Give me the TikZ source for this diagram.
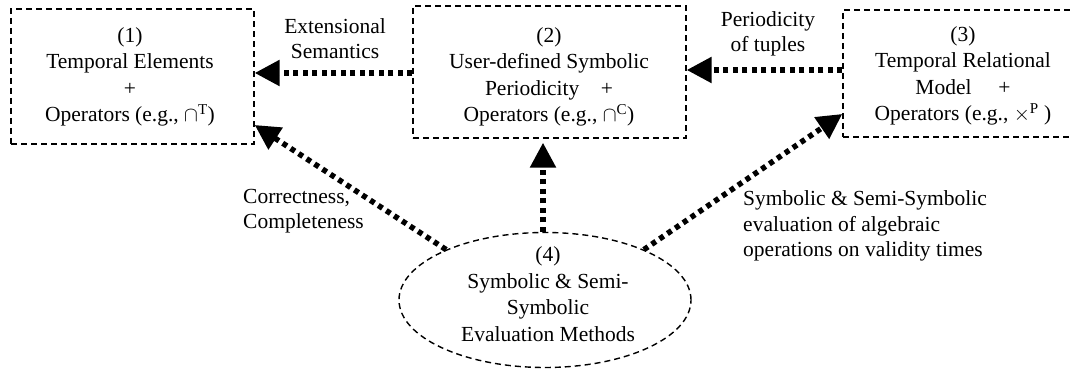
\documentclass[tikz,border=0pt]{standalone}
\usepackage{fontspec}
\setmainfont{Liberation Serif}
\usetikzlibrary{arrows.meta,shapes.geometric}
\tikzset{
  box/.style={draw, dashed, line width=1.4pt, dash pattern=on 6pt off 4pt, inner sep=0pt},
  txt/.style={align=center, inner sep=0pt, font=\fontsize{21.5}{26.5}\selectfont},
  lbl/.style={inner sep=0pt, font=\fontsize{21.5}{25.5}\selectfont},
  arr/.style={line width=5.5pt, dash pattern=on 5pt off 4.5pt, -{Triangle[length=25pt,width=25pt]}}
}
\begin{document}
\begin{tikzpicture}[x=1pt,y=-1pt]
\clip (0,0) rectangle (1070,371);
\fill[white] (0,0) rectangle (1070,371);
% boxes
\node[box, minimum width=243pt, minimum height=135pt] (b1) at (132.5,76.5) {};
\node[box, minimum width=273pt, minimum height=132pt] (b2) at (549.5,72) {};
\node[box, minimum width=240pt, minimum height=127pt] (b3) at (963,73.5) {};
\node[box, ellipse, minimum width=292pt, minimum height=135pt] (e) at (545,300) {};
% texts
\node[txt] (t1) at (130,77) {(1)\\Temporal Elements\\+\\Operators (e.g., $\cap$\textsuperscript{T})};
\node[txt] (t2) at (549,77) {(2)\\User-defined Symbolic\\Periodicity\quad+\\Operators (e.g., $\cap$\textsuperscript{C})};
\node[txt] (t3) at (963,76) {(3)\\Temporal Relational\\Model\quad\ +\\Operators (e.g., $\times$\textsuperscript{P} )};
\node[txt] (t4) at (548,294) {(4)\\Symbolic \& Semi-\\Symbolic\\Evaluation Methods};
% labels
\node[lbl, align=center] (l1) at (335,38.5) {Extensional\\Semantics};
\node[lbl, align=center] (l2) at (768,34) {Periodicity\\of tuples};
\node[lbl, align=left, anchor=west] (l3) at (243,211) {Correctness,\\Completeness};
\node[lbl, align=left, anchor=west] (l4) at (743,226) {Symbolic \& Semi-Symbolic\\evaluation of algebraic\\operations on validity times};
% connectors
\coordinate (h1) at (0,73);
\coordinate (h2) at (0,70);
\coordinate (v1) at (543,0);
\coordinate (d1) at (0,125);
\coordinate (d3) at (0,114);
\draw[arr] (b2.west |- h1) -- (b1.east |- h1);
\draw[arr] (b3.west |- h2) -- (b2.east |- h2);
\draw[arr, shorten >=4pt] (e.north -| v1) -- (b2.south -| v1);
\draw[arr] (e.153) -- (b1.east |- d1);
\draw[arr] (e.27) -- (b3.west |- d3);
\end{tikzpicture}
\end{document}
